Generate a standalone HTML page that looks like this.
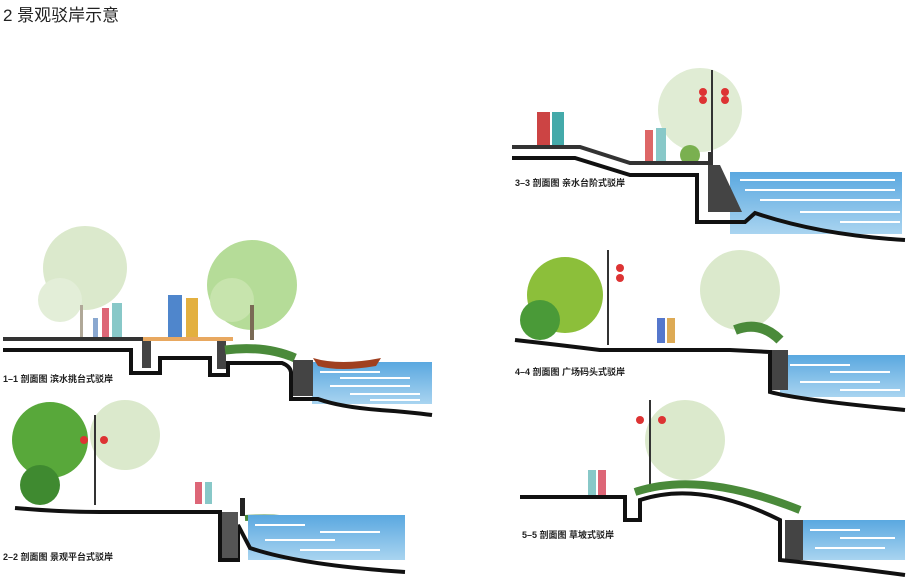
<!DOCTYPE html>
<html><head><meta charset="utf-8"><style>
html,body{margin:0;padding:0;background:#fff;width:907px;height:579px;overflow:hidden}
svg{display:block}
text{font-family:"Liberation Sans","Noto Sans CJK SC",sans-serif}
</style></head><body>
<svg width="907" height="579" viewBox="0 0 907 579" xmlns="http://www.w3.org/2000/svg">
<defs>
<linearGradient id="w" x1="0" y1="0" x2="0" y2="1"><stop offset="0" stop-color="#5aa8e0"/><stop offset="1" stop-color="#a9d4f0"/></linearGradient>
</defs>
<text x="3" y="21" font-size="17" fill="#222">2 景观驳岸示意</text>

<!-- Section 1 -->
<g>
<circle cx="85" cy="268" r="42" fill="#dbe9cc"/>
<circle cx="60" cy="300" r="22" fill="#e3eed8"/>
<circle cx="252" cy="285" r="45" fill="#b5dc98"/>
<circle cx="232" cy="300" r="22" fill="#c7e4ad"/>
<rect x="250" y="305" width="4" height="35" fill="#7a6a55"/>
<rect x="80" y="305" width="3" height="33" fill="#b0a898"/>
<rect x="168" y="295" width="14" height="43" fill="#4f86cc"/><rect x="186" y="298" width="12" height="40" fill="#e3b040"/>
<rect x="102" y="308" width="7" height="30" fill="#dd6677"/><rect x="112" y="303" width="10" height="35" fill="#88c8c8"/><rect x="93" y="318" width="5" height="20" fill="#8aa8d0"/>
<rect x="3" y="337" width="142" height="4" fill="#333"/>
<rect x="143" y="337" width="90" height="4" fill="#e8a860"/>
<rect x="142" y="341" width="9" height="27" fill="#444"/><rect x="217" y="341" width="9" height="28" fill="#444"/>
<path d="M225 350 Q265 345 295 358" stroke="#4a8a3a" stroke-width="9" fill="none"/>
<rect x="312" y="362" width="120" height="42" fill="url(#w)"/>
<path d="M320 372h60M340 378h70M330 386h80M350 394h70M370 400h50" stroke="#fff" stroke-width="2"/>
<path d="M313 358 Q340 366 381 358 L376 366 Q340 372 318 366Z" fill="#a04020"/>
<path d="M3 350 H131 V373 H160 V358 H210 V375 H228 V363 H282 Q290 366 291 372 V399 H318 Q340 407 380 410 Q410 412 432 415" stroke="#111" stroke-width="4" fill="none"/>
<rect x="293" y="360" width="20" height="36" fill="#444"/>
<text x="3" y="382" font-size="9" font-weight="bold" fill="#222">1–1 剖面图  滨水挑台式驳岸</text>
</g>

<!-- Section 2 -->
<g>
<circle cx="50" cy="440" r="38" fill="#58a83a"/>
<circle cx="125" cy="435" r="35" fill="#dbe9cc"/>
<circle cx="40" cy="485" r="20" fill="#3f8a30"/>
<line x1="95" y1="415" x2="95" y2="505" stroke="#333" stroke-width="2"/>
<circle cx="84" cy="440" r="4" fill="#d33"/><circle cx="104" cy="440" r="4" fill="#d33"/>
<rect x="195" y="482" width="7" height="22" fill="#dd6677"/><rect x="205" y="482" width="7" height="22" fill="#88c8c8"/>
<rect x="240" y="498" width="5" height="18" fill="#222"/>
<path d="M245 518 Q300 515 320 528" stroke="#4a8a3a" stroke-width="6" fill="none"/>
<rect x="248" y="515" width="157" height="45" fill="url(#w)"/>
<path d="M255 525h50M320 532h60M265 540h70M300 550h80" stroke="#fff" stroke-width="2"/>
<path d="M15 508 Q60 512 100 512 H220 V560 H238 V525 L250 548 Q300 565 405 572" stroke="#111" stroke-width="4" fill="none"/>
<rect x="222" y="512" width="16" height="46" fill="#555"/>
<text x="3" y="560" font-size="9" font-weight="bold" fill="#222">2–2 剖面图  景观平台式驳岸</text>
</g>

<!-- Section 3 -->
<g>
<circle cx="700" cy="110" r="42" fill="#e0ecd4"/>
<line x1="712" y1="70" x2="712" y2="165" stroke="#333" stroke-width="2"/>
<circle cx="703" cy="92" r="4" fill="#d33"/><circle cx="703" cy="100" r="4" fill="#d33"/><circle cx="725" cy="92" r="4" fill="#d33"/><circle cx="725" cy="100" r="4" fill="#d33"/>
<rect x="537" y="112" width="13" height="33" fill="#cc4444"/><rect x="552" y="112" width="12" height="33" fill="#44aaaa"/>
<rect x="645" y="130" width="8" height="32" fill="#dd6666"/><rect x="656" y="128" width="10" height="34" fill="#88c8c8"/>
<circle cx="690" cy="155" r="10" fill="#7ab050"/>
<rect x="730" y="172" width="172" height="62" fill="url(#w)"/>
<path d="M740 180h155M745 190h150M760 200h140M800 212h100M840 222h60" stroke="#fff" stroke-width="2"/>
<path d="M512 147 H580 L630 163 H710 V152" stroke="#333" stroke-width="4" fill="none"/>
<path d="M708 165 H720 L742 212 H708Z" fill="#444"/>
<path d="M512 158 H575 L630 175 H697 V222 H745 L755 213 Q820 235 905 240" stroke="#111" stroke-width="4" fill="none"/>
<text x="515" y="186" font-size="9" font-weight="bold" fill="#222">3–3 剖面图  亲水台阶式驳岸</text>
</g>

<!-- Section 4 -->
<g>
<circle cx="565" cy="295" r="38" fill="#8cbf3a"/>
<circle cx="540" cy="320" r="20" fill="#4a9a38"/>
<circle cx="740" cy="290" r="40" fill="#dbe9cc"/>
<line x1="608" y1="250" x2="608" y2="345" stroke="#333" stroke-width="2"/>
<circle cx="620" cy="268" r="4" fill="#d33"/><circle cx="620" cy="278" r="4" fill="#d33"/>
<rect x="657" y="318" width="8" height="25" fill="#5577cc"/><rect x="667" y="318" width="8" height="25" fill="#ddaa55"/>
<path d="M735 330 Q760 320 780 340" stroke="#4a8a3a" stroke-width="10" fill="none"/>
<rect x="780" y="355" width="125" height="42" fill="url(#w)"/>
<path d="M790 365h60M830 372h60M800 382h80M840 390h60" stroke="#fff" stroke-width="2"/>
<rect x="770" y="350" width="18" height="40" fill="#444"/>
<path d="M515 340 Q560 345 600 350 H730 L770 352 V392 Q800 400 905 410" stroke="#111" stroke-width="4" fill="none"/>
<text x="515" y="375" font-size="9" font-weight="bold" fill="#222">4–4 剖面图  广场码头式驳岸</text>
</g>

<!-- Section 5 -->
<g>
<circle cx="685" cy="440" r="40" fill="#dbe9cc"/>
<line x1="650" y1="400" x2="650" y2="492" stroke="#333" stroke-width="2"/>
<circle cx="640" cy="420" r="4" fill="#d33"/><circle cx="662" cy="420" r="4" fill="#d33"/>
<rect x="588" y="470" width="8" height="25" fill="#88c8c8"/><rect x="598" y="470" width="8" height="25" fill="#dd6677"/>
<path d="M635 492 Q700 470 800 510" stroke="#4a8a3a" stroke-width="8" fill="none"/>
<rect x="800" y="520" width="105" height="40" fill="url(#w)"/>
<path d="M810 530h50M840 538h55M815 548h70" stroke="#fff" stroke-width="2"/>
<rect x="785" y="520" width="18" height="40" fill="#444"/>
<path d="M520 497 H625 V520 H640 V500 Q700 480 780 520 V560 Q830 565 905 575" stroke="#111" stroke-width="4" fill="none"/>
<text x="522" y="538" font-size="9" font-weight="bold" fill="#222">5–5 剖面图  草坡式驳岸</text>
</g>
</svg>
</body></html>
